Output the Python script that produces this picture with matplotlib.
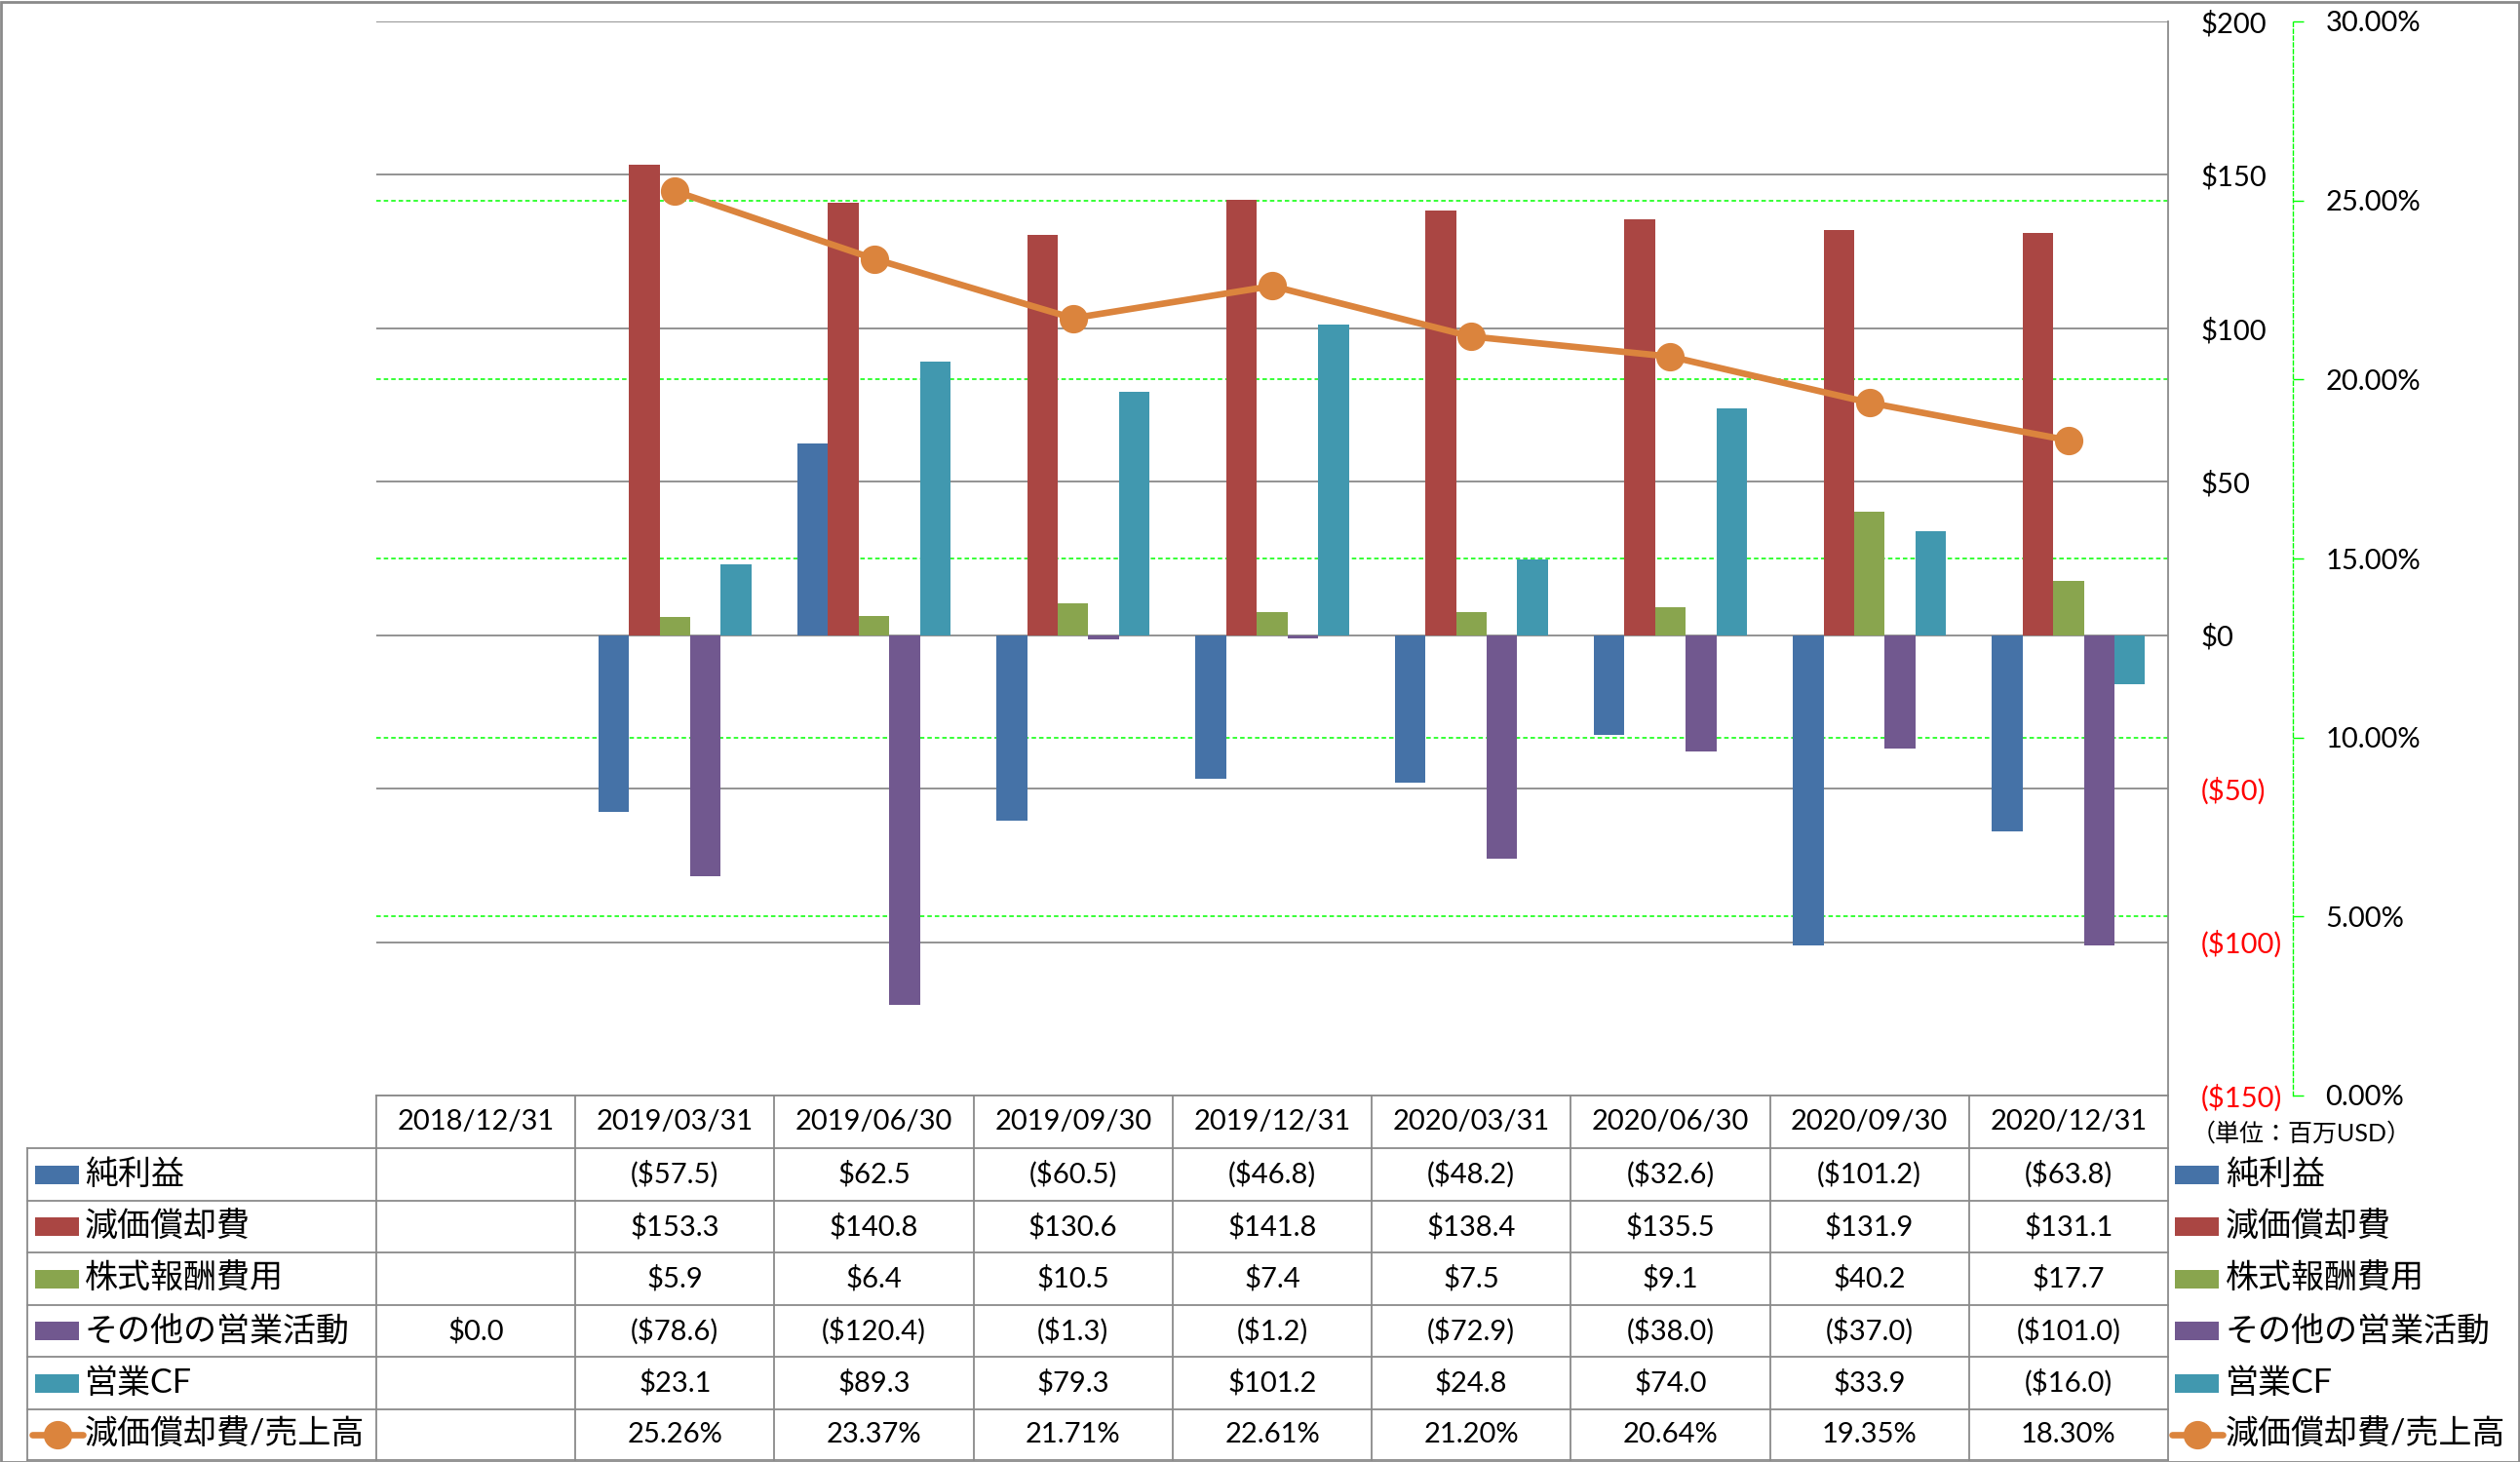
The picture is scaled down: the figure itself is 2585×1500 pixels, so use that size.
import numpy as np
import matplotlib
matplotlib.use('Agg')
import matplotlib.pyplot as plt
from matplotlib.transforms import blended_transform_factory
from matplotlib.lines import Line2D
from matplotlib.patches import Rectangle

# ---------------- data ----------------
categories = ['2018/12/31', '2019/03/31', '2019/06/30', '2019/09/30', '2019/12/31',
              '2020/03/31', '2020/06/30', '2020/09/30', '2020/12/31']
net_income = [np.nan, -57.5, 62.5, -60.5, -46.8, -48.2, -32.6, -101.2, -63.8]
depreciation = [np.nan, 153.3, 140.8, 130.6, 141.8, 138.4, 135.5, 131.9, 131.1]
stock_comp = [np.nan, 5.9, 6.4, 10.5, 7.4, 7.5, 9.1, 40.2, 17.7]
other_ops = [0.0, -78.6, -120.4, -1.3, -1.2, -72.9, -38.0, -37.0, -101.0]
operating_cf = [np.nan, 23.1, 89.3, 79.3, 101.2, 24.8, 74.0, 33.9, -16.0]
dep_ratio = [np.nan, 25.26, 23.37, 21.71, 22.61, 21.20, 20.64, 19.35, 18.30]

series_names = ['純利益', '減価償却費', '株式報酬費用', 'その他の営業活動', '営業CF']
ratio_name = '減価償却費/売上高'
series_values = [net_income, depreciation, stock_comp, other_ops, operating_cf]
left_ticks = [-150, -100, -50, 0, 50, 100, 150, 200]
right_ticks = [0, 5, 10, 15, 20, 25, 30]
unit_label = '（単位：百万USD）'

# ---------------- style ----------------
colors = ['#4572A7', '#AA4643', '#89A54E', '#71588F', '#4198AF']
line_color = '#DB843D'
grid_gray = '#8A8A8A'
green = '#00FF00'
FONT = ['Lato', 'Noto Sans CJK JP', 'DejaVu Sans']
plt.rcParams['font.family'] = FONT
NUM_FS = 21
JP_FS = 24.5

W, H = 2585, 1500
fig = plt.figure(figsize=(W / 100, H / 100), dpi=100)


def fx(px):
    return px / W


def fy(py):
    return 1 - py / H


L, R, T, B = 386, 2224, 22, 1124
ax = fig.add_axes([fx(L), fy(B), (R - L) / W, (B - T) / H])
x = np.arange(len(categories))
n = len(series_values)
bw = 1 / (n + 1.5)
for i, (vals, c) in enumerate(zip(series_values, colors)):
    ax.bar(x + (i - (n - 1) / 2) * bw, vals, width=bw, color=c, zorder=2, linewidth=0)

ax.set_xlim(-0.5, len(categories) - 0.5)
ax.set_ylim(-150, 200)
ax.set_xticks([])


def money(v, digits=0):
    s = f"{abs(v):.{digits}f}"
    return f"(${s})" if v < 0 else f"${s}"


ax2 = ax.twinx()

ax.yaxis.tick_right()
ax.set_yticks(left_ticks, labels=[money(t) for t in left_ticks])
for t, lab in zip(left_ticks, ax.get_yticklabels()):
    lab.set_color('#FF0000' if t < 0 else 'black')
ax.tick_params(axis='y', which='both', left=False, right=True, labelleft=False, labelright=True,
               length=0, pad=24, labelsize=NUM_FS)
ax.grid(axis='y', color=grid_gray, lw=1.3, zorder=0)
ax.set_axisbelow(True)
for s in ['top', 'left', 'bottom']:
    ax.spines[s].set_visible(False)
ax.spines['right'].set_color(grid_gray)
ax.spines['right'].set_linewidth(1.3)

ax2.set_ylim(0, 30)
ax2.set_yticks(right_ticks, labels=[f"{t:.2f}%" for t in right_ticks])
ax2.tick_params(axis='y', direction='out', length=8, color=green, width=1, pad=16, labelsize=NUM_FS)
for s in ['top', 'left', 'bottom']:
    ax2.spines[s].set_visible(False)
ax2.spines['right'].set_position(('outward', 128 * 0.72))
ax2.spines['right'].set_color(green)
ax2.spines['right'].set_linestyle((0, (3, 2)))
ax2.spines['right'].set_linewidth(1.0)

# green dashed gridlines (secondary axis) behind bars
gtr = blended_transform_factory(ax.transAxes, ax2.transData)
for p in right_ticks[1:-1]:
    ax.plot([0, 1], [p, p], transform=gtr, color=green, ls=(0, (3, 2)), lw=1.1, zorder=1)

ax2.plot(x, dep_ratio, color=line_color, lw=4.8, marker='o', ms=20,
         markerfacecolor=line_color, markeredgecolor=line_color, zorder=3)

# ---------------- data table ----------------
rows = [1124, 1178, 1232, 1285, 1339, 1392, 1446, 1498]
tbl_left = 28
line_kw = dict(color=grid_gray, lw=1.3, transform=fig.transFigure)
fig.add_artist(Line2D([fx(L), fx(R)], [fy(rows[0])] * 2, **line_kw))
for r in rows[1:]:
    fig.add_artist(Line2D([fx(tbl_left), fx(R)], [fy(r)] * 2, **line_kw))
bt = blended_transform_factory(ax.transData, fig.transFigure)
for k in range(len(categories) + 1):
    ax.add_line(Line2D([k - 0.5, k - 0.5], [fy(rows[0]), fy(rows[-1])], color=grid_gray,
                       lw=1.3, transform=bt, clip_on=False))
fig.add_artist(Line2D([fx(tbl_left)] * 2, [fy(rows[1]), fy(rows[-1])], **line_kw))

hc = (rows[0] + rows[1]) / 2
for i, c in enumerate(categories):
    ax.text(i, fy(hc), c, transform=bt, ha='center', va='center', fontsize=NUM_FS, clip_on=False)

all_rows = series_values + [dep_ratio]
for j, vals in enumerate(all_rows):
    yc = (rows[j + 1] + rows[j + 2]) / 2
    for i, v in enumerate(vals):
        if np.isnan(v):
            continue
        s = f"{v:.2f}%" if j == len(all_rows) - 1 else money(v, 1)
        ax.text(i, fy(yc), s, transform=bt, ha='center', va='center', fontsize=NUM_FS, clip_on=False)


def legend_entry(xp, yc, j, text_x):
    if j < n:
        fig.add_artist(Rectangle((fx(xp), fy(yc + 9.5)), 45 / W, 19 / H, transform=fig.transFigure,
                                 facecolor=colors[j], edgecolor='none'))
    else:
        fig.add_artist(Line2D([fx(xp - 3), fx(xp + 49)], [fy(yc)] * 2, color=line_color, lw=4.8,
                              solid_capstyle='round', transform=fig.transFigure))
        fig.add_artist(Line2D([fx(xp + 23)], [fy(yc)], marker='o', ms=20, color=line_color,
                              transform=fig.transFigure))
    name = series_names[j] if j < n else ratio_name
    fig.text(fx(text_x), fy(yc), name, ha='left', va='center', fontsize=JP_FS)


for j in range(len(all_rows)):
    yc = (rows[j + 1] + rows[j + 2]) / 2
    legend_entry(36, yc, j, 87)
    legend_entry(2231, yc, j, 2283)

fig.text(fx(2248), fy(1163), unit_label, ha='left', va='center', fontsize=18)

fig.add_artist(Rectangle((0.5 / W, 0.5 / H), 1 - 2 / W, 1 - 2 / H, transform=fig.transFigure,
                         fill=False, edgecolor='#8A8A8A', lw=2))

fig.savefig('out.png', dpi=100)
